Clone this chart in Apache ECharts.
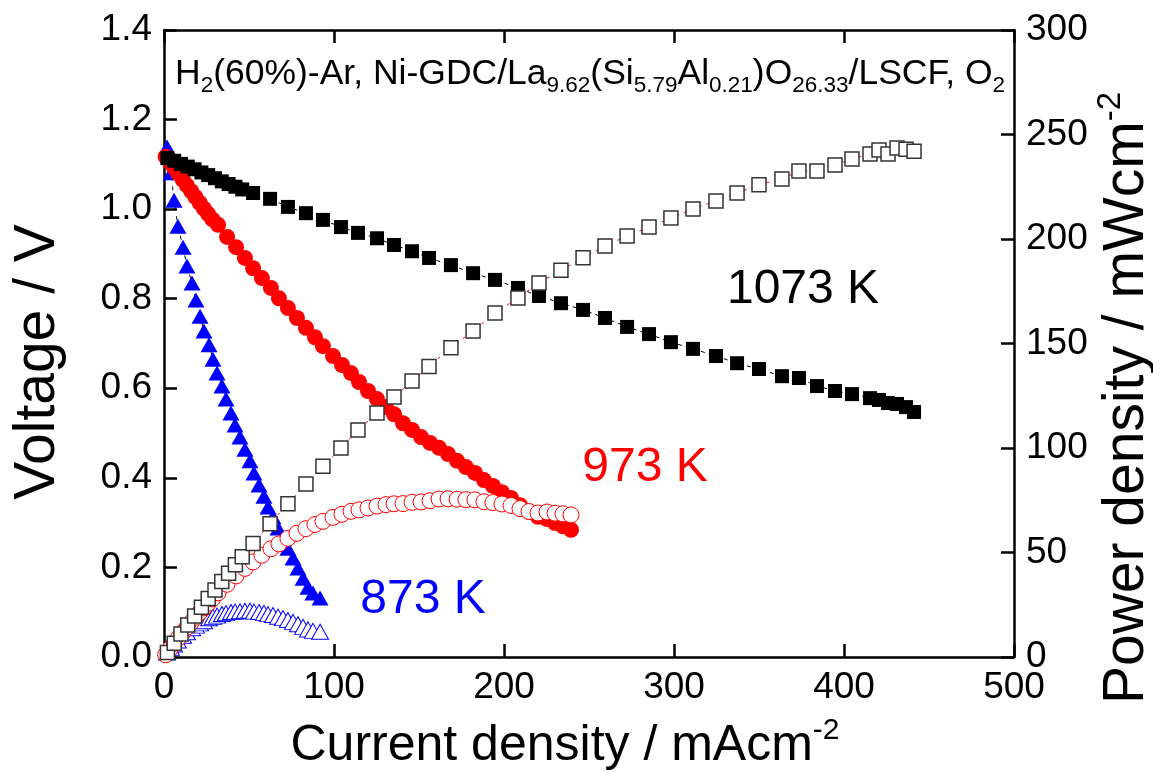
<!DOCTYPE html>
<html>
<head>
<meta charset="utf-8">
<script src="https://cdn.jsdelivr.net/npm/echarts@6/dist/echarts.min.js"></script>
<style>
html,body{margin:0;padding:0;background:#fff;}
#chart{width:1153px;height:772px;}
</style>
</head>
<body>
<div id="chart"></div>
<script>
// ---- data ----
const current1073 = [2,6,10,14,18,22,26,30,34,38,42,46,52.4,62.4,72.9,83.5,93.5,104.1,114.1,125.3,135.3,145.9,155.9,168.8,181.8,194.7,208.2,220.6,233.5,246.5,259.4,272.4,285.3,298.2,311.2,324.7,337.1,350.0,363.5,373.5,384.1,394.7,404.7,415.3,420.6,425.9,431.2,436.5,441.2];
const voltage1073 = [1.114,1.108,1.101,1.095,1.089,1.082,1.076,1.069,1.062,1.056,1.050,1.044,1.036,1.023,1.005,0.991,0.976,0.960,0.947,0.935,0.920,0.906,0.891,0.875,0.857,0.842,0.824,0.806,0.790,0.775,0.757,0.737,0.721,0.703,0.688,0.672,0.656,0.643,0.627,0.623,0.605,0.594,0.587,0.578,0.574,0.567,0.565,0.558,0.547];
const power1073 = [2.2,6.6,11.0,15.3,19.6,23.8,28.0,32.1,36.1,40.1,44.1,48.0,54.3,63.8,73.3,82.8,91.3,100.0,108.6,116.7,124.4,132.0,139.0,148.0,156.0,164.6,171.8,179.0,185.0,191.0,196.7,201.4,205.7,210.0,214.4,218.2,222.0,226.0,228.7,232.5,232.5,235.4,238.3,240.7,242.6,240.7,243.5,243.0,242.0];

const current973 = [1,3.5,6,8.5,11,13.5,16,18.5,21,23.5,26,28.5,31.8,37.1,42.4,47.6,52.4,57.6,62.9,67.6,72.9,78.2,83.5,88.8,93.5,99.4,104.7,110.0,114.7,120.0,125.3,130.6,135.3,140.6,145.9,151.2,156.5,161.8,167.1,172.4,177.6,182.9,188.2,193.5,198.8,204.1,209.4,214.7,220.0,225.3,230.0,234.7,239.4];
const voltage973 = [1.117,1.105,1.092,1.079,1.066,1.053,1.040,1.027,1.014,1.001,0.989,0.977,0.965,0.938,0.915,0.891,0.868,0.846,0.824,0.801,0.779,0.757,0.735,0.714,0.694,0.672,0.652,0.634,0.614,0.594,0.576,0.558,0.542,0.522,0.507,0.491,0.478,0.467,0.453,0.438,0.424,0.411,0.395,0.382,0.368,0.355,0.339,0.324,0.313,0.308,0.299,0.292,0.284];
const power973 = [1.1,3.9,6.6,9.2,11.7,14.2,16.6,19.0,21.3,23.5,25.7,27.8,30.7,34.8,38.8,42.4,45.5,48.7,51.8,54.1,56.8,59.2,61.4,63.4,64.9,66.8,68.3,69.7,70.4,71.3,72.2,72.9,73.3,73.4,74.0,74.2,74.8,75.6,75.7,75.5,75.3,75.2,74.3,73.9,73.2,72.5,71.0,69.6,68.9,69.4,68.8,68.5,68.0];

const current873 = [1.8,4.1,5.9,8.2,11.2,13.5,16.5,18.8,21.2,23.5,26.5,28.8,31.2,34.1,36.5,39.4,41.8,44.7,47.6,50.6,52.9,55.9,58.8,61.2,64.1,67.1,70.0,72.9,75.9,78.8,81.8,84.7,87.6,91.8];
const voltage873 = [1.139,1.081,1.020,0.962,0.915,0.873,0.835,0.797,0.761,0.728,0.697,0.665,0.634,0.605,0.576,0.545,0.518,0.491,0.464,0.438,0.411,0.384,0.359,0.335,0.313,0.288,0.266,0.243,0.221,0.199,0.176,0.156,0.143,0.132];
const power873 = [2.1,4.4,6.0,7.9,10.2,11.8,13.8,15.0,16.1,17.1,18.5,19.2,19.8,20.6,21.0,21.5,21.7,21.9,22.1,22.2,21.7,21.5,21.1,20.5,20.1,19.3,18.6,17.7,16.8,15.7,14.4,13.2,12.5,12.1];

const xTicks = {min: 0, max: 500, step: 100};
const yLeftTicks = {min: 0, max: 1.4, step: 0.2};
const yRightTicks = {min: 0, max: 300, step: 50};

const tempLabels = ['1073 K', '973 K', '873 K'];
const xTitle = ['Current density / mAcm', '-2'];
const yLeftTitle = 'Voltage / V';
const yRightTitle = ['Power density / mWcm', '-2'];

// ---- build ----
function zip(a, b) { return a.map((v, i) => [v, b[i]]); }
const FONT = '"Liberation Sans", Arial, Helvetica, sans-serif';

const chart = echarts.init(document.getElementById('chart'), null, {renderer: 'canvas'});

const axisCommon = {
  axisLine: {show: true, onZero: false, lineStyle: {color: '#000', width: 2.5}},
  axisTick: {show: true, inside: true, length: 13, lineStyle: {color: '#000', width: 2.5}},
  splitLine: {show: false},
  axisLabel: {color: '#000', fontFamily: FONT, fontSize: 37}
};

const GRID = {left: 164, right: 139, top: 30, bottom: 115};

const option = {
  animation: false,
  backgroundColor: '#fff',
  grid: GRID,
  xAxis: [
    Object.assign({}, axisCommon, {
      type: 'value', position: 'bottom', min: xTicks.min, max: xTicks.max, interval: xTicks.step,
      axisLabel: Object.assign({}, axisCommon.axisLabel, {margin: 12})
    }),
    Object.assign({}, axisCommon, {
      type: 'value', position: 'top', min: xTicks.min, max: xTicks.max, interval: xTicks.step,
      axisLabel: {show: false}
    })
  ],
  yAxis: [
    Object.assign({}, axisCommon, {
      type: 'value', position: 'left', min: yLeftTicks.min, max: yLeftTicks.max, interval: yLeftTicks.step,
      axisLabel: Object.assign({}, axisCommon.axisLabel, {margin: 12, formatter: v => v.toFixed(1)})
    }),
    Object.assign({}, axisCommon, {
      type: 'value', position: 'right', min: yRightTicks.min, max: yRightTicks.max, interval: yRightTicks.step,
      axisLabel: Object.assign({}, axisCommon.axisLabel, {margin: 12})
    })
  ],
  series: [
    {
      name: 'V873', type: 'line', xAxisIndex: 0, yAxisIndex: 0, data: zip(current873, voltage873),
      symbol: 'triangle', symbolSize: [17, 15], itemStyle: {color: '#0000ff'},
      lineStyle: {color: '#000', width: 1, type: [4, 6]}, z: 3
    },
    {
      name: 'V973', type: 'line', xAxisIndex: 0, yAxisIndex: 0, data: zip(current973, voltage973),
      symbol: 'circle', symbolSize: 16, itemStyle: {color: '#ff0000'},
      lineStyle: {color: '#ff0000', width: 1}, z: 3
    },
    {
      name: 'V1073', type: 'line', xAxisIndex: 0, yAxisIndex: 0, data: zip(current1073, voltage1073),
      symbol: 'rect', symbolSize: 14, itemStyle: {color: '#000'},
      lineStyle: {color: '#000', width: 1, type: [4, 4]}, z: 3
    },
    {
      name: 'P873', type: 'line', xAxisIndex: 0, yAxisIndex: 1, data: zip(current873, power873),
      symbol: 'triangle', symbolSize: [17, 15], itemStyle: {color: '#fff', borderColor: '#0000ff', borderWidth: 1},
      lineStyle: {color: '#0000ff', width: 1}, z: 4
    },
    {
      name: 'P973', type: 'line', xAxisIndex: 0, yAxisIndex: 1, data: zip(current973, power973),
      symbol: 'circle', symbolSize: 16, itemStyle: {color: '#fff', borderColor: '#ff0000', borderWidth: 1},
      lineStyle: {color: '#ff0000', width: 1}, z: 4
    },
    {
      name: 'P1073', type: 'line', xAxisIndex: 0, yAxisIndex: 1, data: zip(current1073, power1073),
      symbol: 'rect', symbolSize: 14, itemStyle: {color: '#fff', borderColor: '#333', borderWidth: 1.5},
      lineStyle: {color: '#ff0000', width: 1, type: [3, 5]}, z: 4
    }
  ],
  graphic: [
    {
      type: 'text', left: 175, top: 56, z: 10,
      style: {
        text: '{m|H}{s|2}{m|(60%)-Ar, Ni-GDC/La}{s|9.62}{m|(Si}{s|5.79}{m|Al}{s|0.21}{m|)O}{s|26.33}{m|/LSCF, O}{s|2}',
        fill: '#000',
        rich: {
          m: {fontFamily: FONT, fontSize: 35.5, lineHeight: 46, verticalAlign: 'middle', fill: '#000'},
          s: {fontFamily: FONT, fontSize: 22.5, lineHeight: 22, verticalAlign: 'bottom', fill: '#000'}
        }
      }
    },
    {
      type: 'text', x: 565, y: 746, z: 10,
      style: {
        text: '{m|' + xTitle[0] + '}{s|' + xTitle[1] + '}',
        align: 'center', verticalAlign: 'middle', fill: '#000',
        rich: {
          m: {fontFamily: FONT, fontSize: 50, lineHeight: 60, verticalAlign: 'middle', fill: '#000'},
          s: {fontFamily: FONT, fontSize: 30, lineHeight: 30, verticalAlign: 'top', fill: '#000'}
        }
      }
    },
    {
      type: 'text', x: 38, y: 362, rotation: Math.PI / 2, z: 10,
      style: {
        text: yLeftTitle, align: 'center', verticalAlign: 'middle', fill: '#000',
        font: '57px ' + FONT
      }
    },
    {
      type: 'text', x: 1127, y: 398, rotation: Math.PI / 2, z: 10,
      style: {
        text: '{m|' + yRightTitle[0] + '}{s|' + yRightTitle[1] + '}',
        align: 'center', verticalAlign: 'middle', fill: '#000',
        rich: {
          m: {fontFamily: FONT, fontSize: 57, lineHeight: 66, verticalAlign: 'middle', fill: '#000'},
          s: {fontFamily: FONT, fontSize: 33, lineHeight: 33, verticalAlign: 'top', fill: '#000'}
        }
      }
    },
    {
      type: 'text', x: 803, y: 290, z: 10,
      style: {text: tempLabels[0], align: 'center', verticalAlign: 'middle', fill: '#000', font: '48px ' + FONT}
    },
    {
      type: 'text', x: 645, y: 468, z: 10,
      style: {text: tempLabels[1], align: 'center', verticalAlign: 'middle', fill: '#ff0000', font: '48px ' + FONT}
    },
    {
      type: 'text', x: 423, y: 600, z: 10,
      style: {text: tempLabels[2], align: 'center', verticalAlign: 'middle', fill: '#0000ff', font: '48px ' + FONT}
    }
  ]
};
chart.setOption(option);
</script>
</body>
</html>
